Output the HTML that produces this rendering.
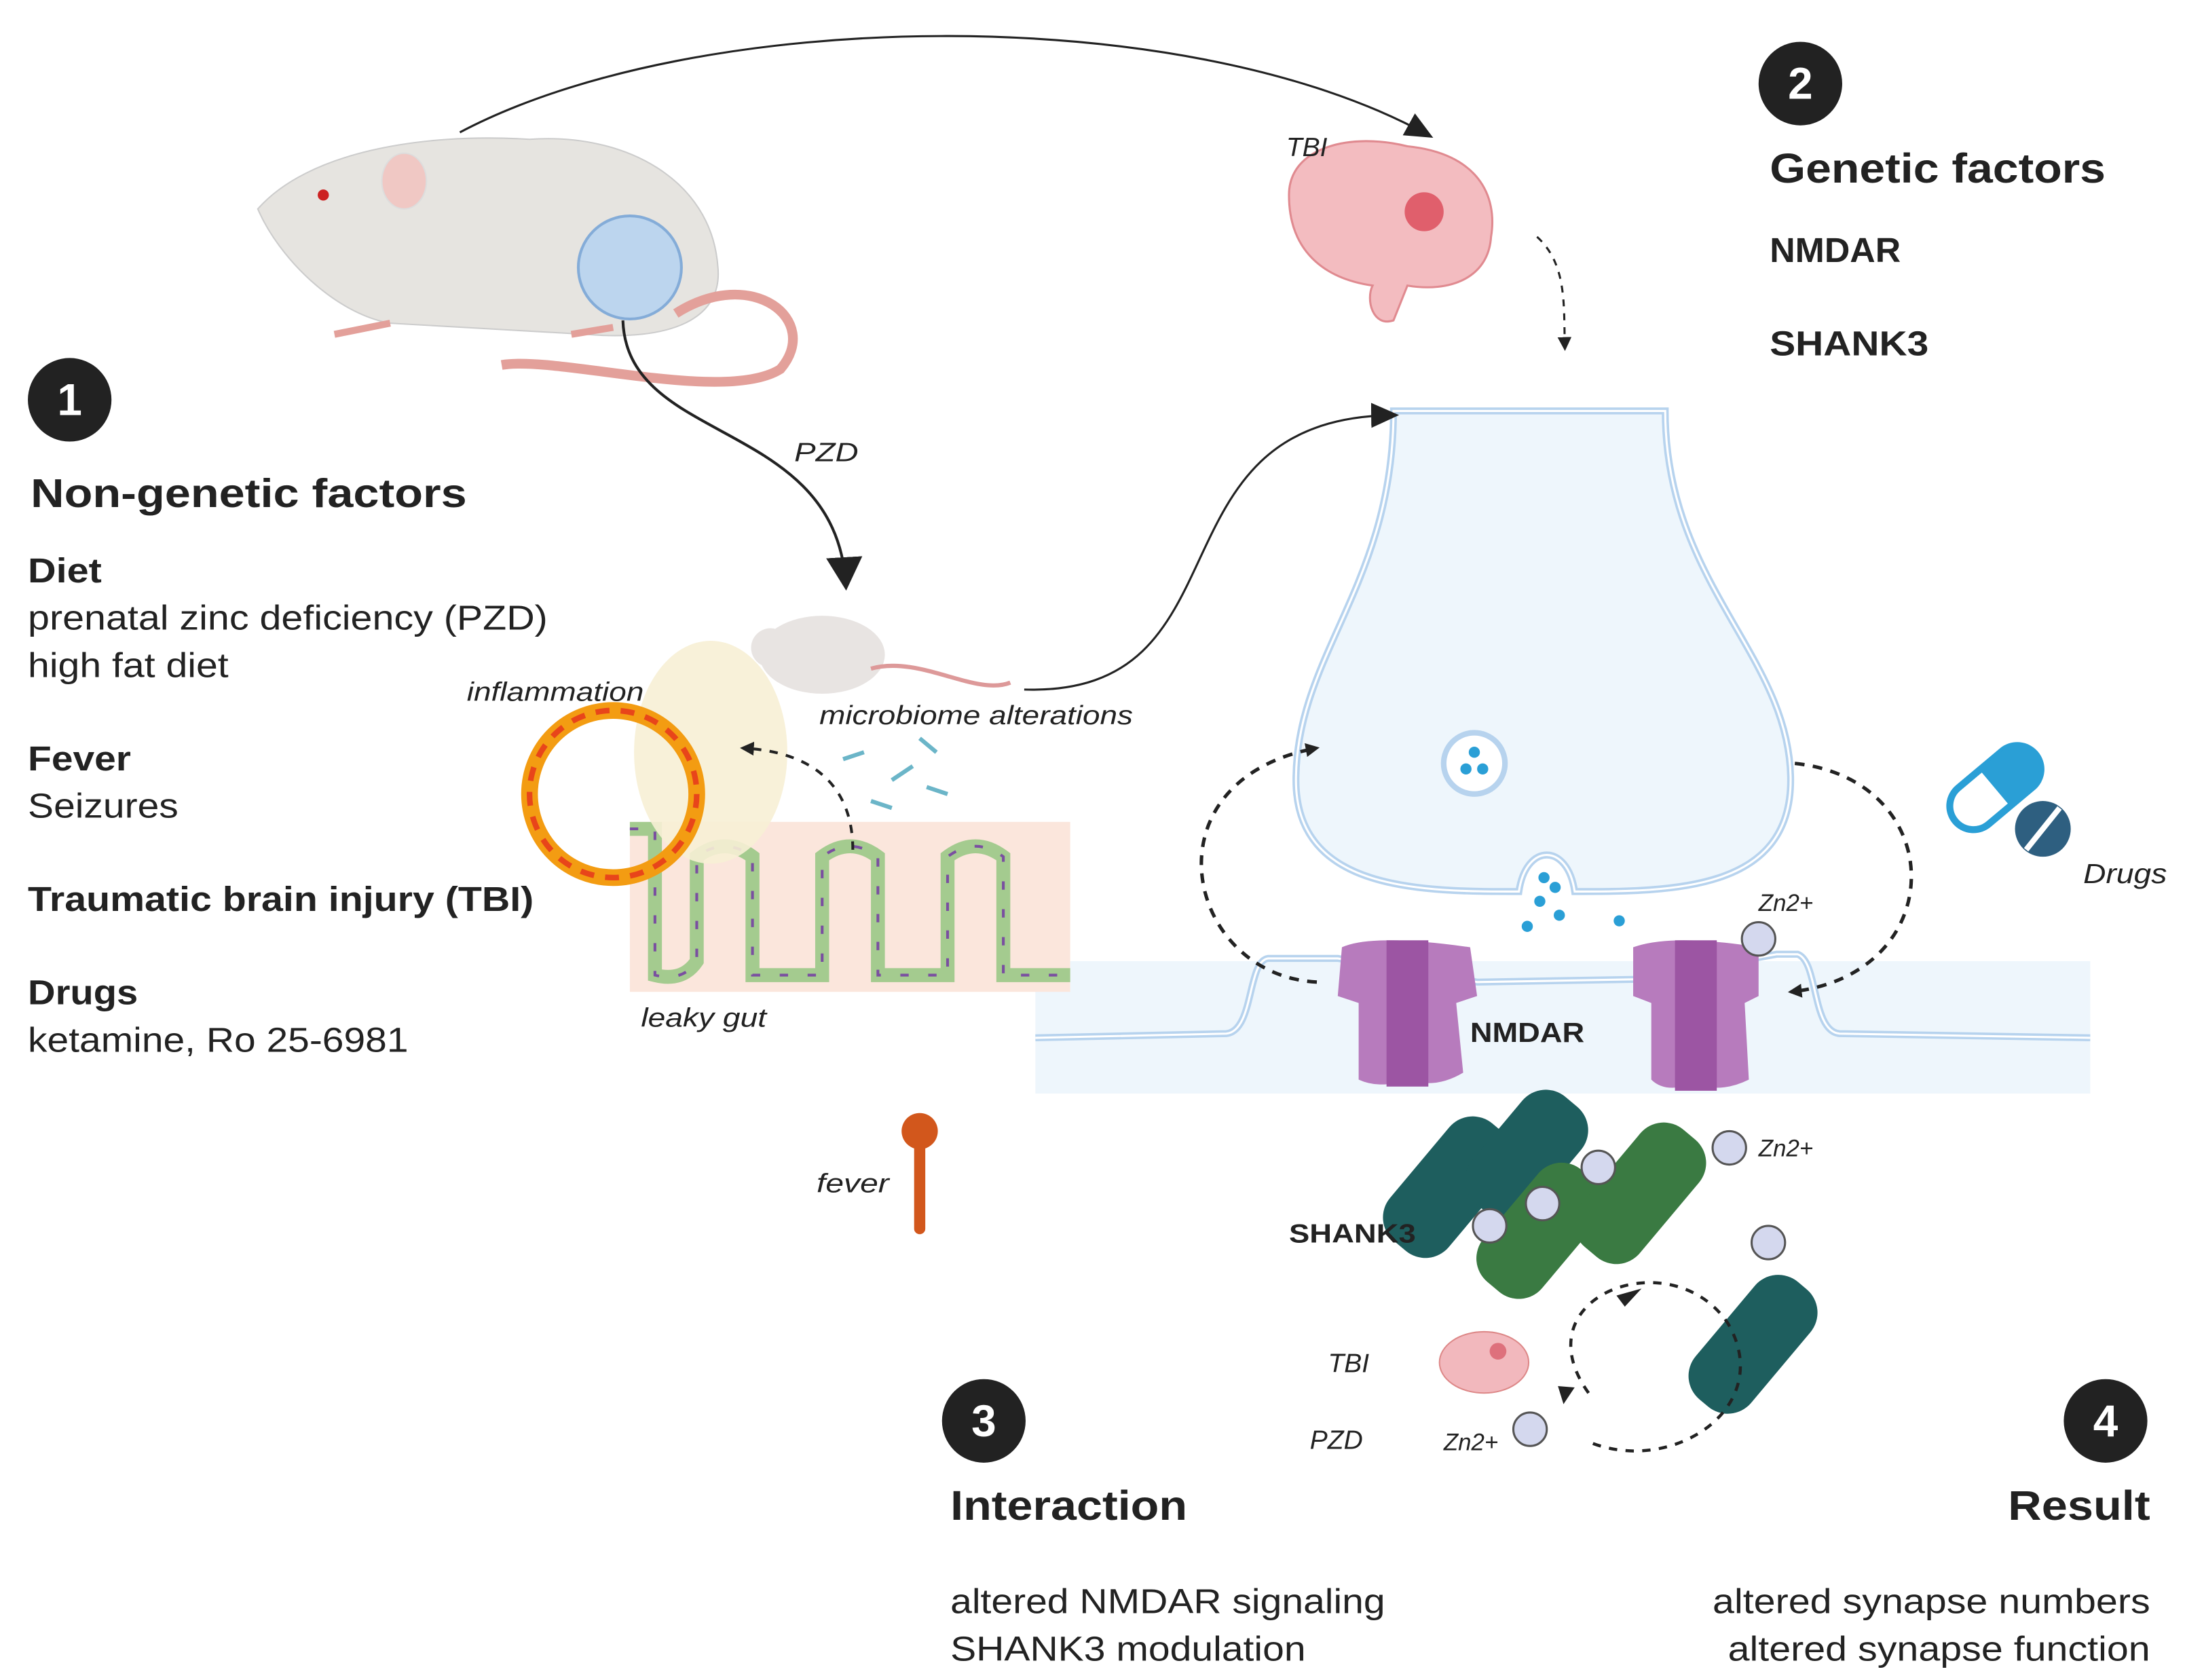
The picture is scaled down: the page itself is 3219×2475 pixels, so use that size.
<!DOCTYPE html>
<html><head><meta charset="utf-8"><style>
html,body{margin:0;padding:0;background:#fff}
svg{display:block}
text{font-family:"Liberation Sans",Arial,sans-serif;fill:#222}
.b{font-weight:bold}
.i{font-style:italic}
</style></head><body>
<svg width="3219" height="2475" viewBox="0 0 1568 1206" preserveAspectRatio="none" xmlns="http://www.w3.org/2000/svg">
<defs>
<marker id="ah" markerWidth="10" markerHeight="10" refX="8" refY="5" orient="auto" markerUnits="userSpaceOnUse"><path d="M0,0 L10,5 L0,10 z" fill="#222"/></marker>
<marker id="ahb" markerWidth="26" markerHeight="26" refX="20" refY="13" orient="auto" markerUnits="userSpaceOnUse"><path d="M0,0 L24,13 L0,26 z" fill="#222"/></marker>
<marker id="ahm" markerWidth="20" markerHeight="18" refX="16" refY="9" orient="auto" markerUnits="userSpaceOnUse"><path d="M0,0 L20,9 L0,18 z" fill="#222"/></marker>
</defs>

<rect x="743" y="690" width="757" height="95" fill="#eef6fc"/>
<path d="M1000,295 L1195,295 C1195,420 1285,470 1285,560 C1285,640 1200,640 1130,640 C1125,605 1095,605 1090,640 C1020,640 930,640 930,560 C930,470 1000,420 1000,295 Z" fill="#eef6fc" stroke="#b7d3ee" stroke-width="5"/>
<path d="M1000,295 L1195,295 C1195,420 1285,470 1285,560 C1285,640 1200,640 1130,640 C1125,605 1095,605 1090,640 C1020,640 930,640 930,560 C930,470 1000,420 1000,295 Z" fill="none" stroke="#fff" stroke-width="1.5"/>
<path d="M743,745 L880,742 C900,740 895,690 910,688 L960,688 L1060,705 L1175,703 L1275,685 L1290,685 C1305,690 1300,740 1320,742 L1500,745" fill="none" stroke="#b7d3ee" stroke-width="5"/>
<path d="M743,745 L880,742 C900,740 895,690 910,688 L960,688 L1060,705 L1175,703 L1275,685 L1290,685 C1305,690 1300,740 1320,742 L1500,745" fill="none" stroke="#fff" stroke-width="1.5"/>
<circle cx="1058" cy="548" r="22" fill="#fff" stroke="#b7d3ee" stroke-width="4"/>
<circle cx="1058" cy="540" r="4" fill="#2a9fd6"/><circle cx="1052" cy="552" r="4" fill="#2a9fd6"/><circle cx="1064" cy="552" r="4" fill="#2a9fd6"/>
<g fill="#2a9fd6"><circle cx="1108" cy="630" r="4"/><circle cx="1116" cy="637" r="4"/><circle cx="1105" cy="647" r="4"/><circle cx="1119" cy="657" r="4"/><circle cx="1096" cy="665" r="4"/><circle cx="1162" cy="661" r="4"/></g>

<g fill="#b77bbd"><path d="M963,680 Q985,670 1055,680 L1060,715 L1045,720 L1050,770 Q1030,782 1010,775 Q990,782 975,775 L975,720 L960,715 Z"/>
<path d="M1172,680 Q1200,670 1262,680 L1262,715 L1252,720 L1255,775 Q1235,785 1215,778 Q1195,785 1185,775 L1185,720 L1172,715 Z"/></g>
<rect x="995" y="675" width="30" height="105" fill="#9c55a3"/><rect x="1202" y="675" width="30" height="108" fill="#9c55a3"/>
<circle cx="1262" cy="674" r="12" fill="#d4d8ee" stroke="#555" stroke-width="1.5"/>
<text x="1262" y="654" font-size="17" class="i">Zn2+</text>
<text x="1055" y="748" font-size="20" class="b" textLength="82" lengthAdjust="spacingAndGlyphs">NMDAR</text>

<path d="M945,705 C850,700 820,560 945,537" fill="none" stroke="#222" stroke-width="2.5" stroke-dasharray="7,6" marker-end="url(#ah)"/>
<path d="M1288,548 C1400,560 1400,700 1285,712" fill="none" stroke="#222" stroke-width="2.5" stroke-dasharray="7,6" marker-end="url(#ah)"/>

<g transform="rotate(40 1045 850)"><rect x="1015" y="800" width="55" height="110" rx="22" fill="#1e5e5e"/></g>
<g transform="rotate(40 1100 820)"><rect x="1075" y="780" width="55" height="100" rx="22" fill="#1e5e5e"/></g>
<g transform="rotate(40 1105 880)"><rect x="1080" y="830" width="55" height="105" rx="22" fill="#3a7a42"/></g>
<g transform="rotate(40 1175 855)"><rect x="1150" y="800" width="55" height="110" rx="22" fill="#3a7a42"/></g>
<g transform="rotate(40 1258 965)"><rect x="1232" y="910" width="52" height="110" rx="22" fill="#1e5e5e"/></g>
<g fill="#d4d8ee" stroke="#555" stroke-width="1.5"><circle cx="1147" cy="838" r="12"/><circle cx="1107" cy="864" r="12"/><circle cx="1069" cy="880" r="12"/><circle cx="1241" cy="824" r="12"/><circle cx="1269" cy="892" r="12"/><circle cx="1098" cy="1026" r="12"/></g>
<text x="1262" y="830" font-size="17" class="i">Zn2+</text>
<text x="925" y="892" font-size="19" class="b" textLength="91" lengthAdjust="spacingAndGlyphs">SHANK3</text>
<path d="M1140,1000 C1090,930 1200,890 1240,950 C1275,1010 1200,1060 1140,1035" fill="none" stroke="#222" stroke-width="2.2" stroke-dasharray="6,6"/>
<path d="M1160,930 L1178,925 L1166,938 Z" fill="#222"/><path d="M1118,995 L1122,1008 L1130,996Z" fill="#222"/>
<ellipse cx="1065" cy="978" rx="32" ry="22" fill="#f2b8bd" stroke="#d88" stroke-width="1"/><circle cx="1075" cy="970" r="6" fill="#d04050" opacity="0.6"/>
<text x="953" y="985" font-size="19" class="i">TBI</text>
<text x="940" y="1040" font-size="19" class="i">PZD</text>
<text x="1036" y="1041" font-size="17" class="i">Zn2+</text>

<g transform="rotate(-40 1430 567)"><rect x="1395" y="550" width="75" height="34" rx="17" fill="#fff" stroke="#2a9fd6" stroke-width="5"/><path d="M1432,550 L1453,550 A17,17 0 0 1 1453,584 L1432,584 Z" fill="#2a9fd6"/></g>
<circle cx="1466" cy="595" r="20" fill="#2e5f80"/><line x1="1454" y1="610" x2="1478" y2="580" stroke="#fff" stroke-width="4"/>
<text x="1495" y="634" font-size="20" class="i" textLength="60" lengthAdjust="spacingAndGlyphs">Drugs</text>

<path d="M185,150 C220,110 300,95 380,100 C450,95 510,130 515,190 C520,230 480,245 420,240 L280,232 C240,225 200,185 185,150 Z" fill="#e6e4e0" stroke="#ccc"/>
<ellipse cx="290" cy="130" rx="16" ry="20" fill="#f0c8c4" stroke="#ddd"/>
<circle cx="232" cy="140" r="4" fill="#c22"/>
<circle cx="452" cy="192" r="37" fill="#b8d4f0" stroke="#7aa6d8" stroke-width="2" opacity="0.9"/>
<path d="M485,225 C540,190 590,230 560,265 C520,290 400,255 360,262" fill="none" stroke="#e3a09a" stroke-width="7"/>
<path d="M240,240 L280,232 M410,240 L440,235" stroke="#e3a09a" stroke-width="5"/>

<path d="M330,95 C500,5 850,0 1025,97" fill="none" stroke="#222" stroke-width="1.5" marker-end="url(#ahm)"/>
<path d="M447,230 C450,320 600,300 607,420" fill="none" stroke="#222" stroke-width="2" marker-end="url(#ahb)"/>
<path d="M735,495 C900,500 820,300 1000,298" fill="none" stroke="#222" stroke-width="1.5" marker-end="url(#ahm)"/>
<path d="M1103,170 C1125,190 1122,220 1123,250" fill="none" stroke="#222" stroke-width="1.5" stroke-dasharray="5,5" marker-end="url(#ah)"/>

<path d="M925,140 C925,105 970,95 1010,105 C1060,110 1075,140 1070,170 C1068,200 1040,210 1010,205 L1000,230 C985,235 980,215 985,205 C950,200 925,180 925,140 Z" fill="#f3bcc0" stroke="#e08a90" stroke-width="1.5"/>
<circle cx="1022" cy="152" r="14" fill="#d73848" opacity="0.7"/>
<text x="923" y="112" font-size="19" class="i">TBI</text>

<rect x="452" y="590" width="316" height="122" fill="#fbe6dc"/>
<path d="M452,595 L470,595 L470,700 Q490,705 500,690 L500,615 Q520,600 540,615 L540,700 L590,700 L590,615 Q610,600 630,615 L630,700 L680,700 L680,615 Q700,600 720,615 L720,700 L768,700" fill="none" stroke="#8fc47c" stroke-width="10" opacity="0.8"/>
<path d="M452,595 L470,595 L470,700 Q490,705 500,690 L500,615 Q520,600 540,615 L540,700 L590,700 L590,615 Q610,600 630,615 L630,700 L680,700 L680,615 Q700,600 720,615 L720,700 L768,700" fill="none" stroke="#7a4fa0" stroke-width="2" stroke-dasharray="6,14"/>
<ellipse cx="510" cy="540" rx="55" ry="80" fill="#f7efd5" opacity="0.9"/>
<ellipse cx="590" cy="470" rx="45" ry="28" fill="#e8e4e2"/><circle cx="553" cy="465" r="14" fill="#e8e4e2"/>
<path d="M625,480 C660,470 700,500 725,490" fill="none" stroke="#d99" stroke-width="3"/>
<g stroke="#6bb5c8" stroke-width="3"><line x1="605" y1="545" x2="620" y2="540"/><line x1="640" y1="560" x2="655" y2="550"/><line x1="660" y1="530" x2="672" y2="540"/><line x1="625" y1="575" x2="640" y2="580"/><line x1="665" y1="565" x2="680" y2="570"/></g>
<path d="M612,610 C612,570 590,540 533,537" fill="none" stroke="#222" stroke-width="2" stroke-dasharray="6,6" marker-end="url(#ah)"/>
<circle cx="440" cy="570" r="60" fill="none" stroke="#f39c12" stroke-width="12"/>
<circle cx="440" cy="570" r="60" fill="none" stroke="#e8451a" stroke-width="4" stroke-dasharray="10,8"/>
<text x="335" y="503" font-size="19" class="i" textLength="127" lengthAdjust="spacingAndGlyphs">inflammation</text>
<text x="588" y="520" font-size="19" class="i" textLength="225" lengthAdjust="spacingAndGlyphs">microbiome alterations</text>
<text x="460" y="737" font-size="19" class="i" textLength="90" lengthAdjust="spacingAndGlyphs">leaky gut</text>
<text x="570" y="331" font-size="19" class="i" textLength="46" lengthAdjust="spacingAndGlyphs">PZD</text>

<line x1="660" y1="815" x2="660" y2="882" stroke="#d2571c" stroke-width="8" stroke-linecap="round"/>
<circle cx="660" cy="812" r="13" fill="#d2571c"/>
<text x="586" y="856" font-size="19" class="i" textLength="52" lengthAdjust="spacingAndGlyphs">fever</text>

<g fill="#222"><circle cx="50" cy="287" r="30"/><circle cx="1292" cy="60" r="30"/><circle cx="706" cy="1020" r="30"/><circle cx="1511" cy="1020" r="30"/></g>
<g font-size="32" class="b" text-anchor="middle"><text x="50" y="298" style="fill:#fff">1</text><text x="1292" y="71" style="fill:#fff">2</text><text x="706" y="1031" style="fill:#fff">3</text><text x="1511" y="1031" style="fill:#fff">4</text></g>

<text x="22" y="364" font-size="29" class="b" textLength="313" lengthAdjust="spacingAndGlyphs">Non-genetic factors</text>
<text x="20" y="418" font-size="25" class="b" textLength="53" lengthAdjust="spacingAndGlyphs">Diet</text>
<text x="20" y="452" font-size="25" textLength="373" lengthAdjust="spacingAndGlyphs">prenatal zinc deficiency (PZD)</text>
<text x="20" y="486" font-size="25" textLength="144" lengthAdjust="spacingAndGlyphs">high fat diet</text>
<text x="20" y="553" font-size="25" class="b" textLength="74" lengthAdjust="spacingAndGlyphs">Fever</text>
<text x="20" y="587" font-size="25" textLength="108" lengthAdjust="spacingAndGlyphs">Seizures</text>
<text x="20" y="654" font-size="25" class="b" textLength="363" lengthAdjust="spacingAndGlyphs">Traumatic brain injury (TBI)</text>
<text x="20" y="721" font-size="25" class="b" textLength="79" lengthAdjust="spacingAndGlyphs">Drugs</text>
<text x="20" y="755" font-size="25" textLength="273" lengthAdjust="spacingAndGlyphs">ketamine, Ro 25-6981</text>

<text x="1270" y="131" font-size="30" class="b" textLength="241" lengthAdjust="spacingAndGlyphs">Genetic factors</text>
<text x="1270" y="188" font-size="25" class="b" textLength="94" lengthAdjust="spacingAndGlyphs">NMDAR</text>
<text x="1270" y="255" font-size="25" class="b" textLength="114" lengthAdjust="spacingAndGlyphs">SHANK3</text>

<text x="682" y="1091" font-size="30" class="b" textLength="170" lengthAdjust="spacingAndGlyphs">Interaction</text>
<text x="682" y="1158" font-size="25" textLength="312" lengthAdjust="spacingAndGlyphs">altered NMDAR signaling</text>
<text x="682" y="1192" font-size="25" textLength="255" lengthAdjust="spacingAndGlyphs">SHANK3 modulation</text>

<text x="1441" y="1091" font-size="30" class="b" textLength="102" lengthAdjust="spacingAndGlyphs">Result</text>
<text x="1229" y="1158" font-size="25" textLength="314" lengthAdjust="spacingAndGlyphs">altered synapse numbers</text>
<text x="1240" y="1192" font-size="25" textLength="303" lengthAdjust="spacingAndGlyphs">altered synapse function</text>
</svg>
</body></html>
